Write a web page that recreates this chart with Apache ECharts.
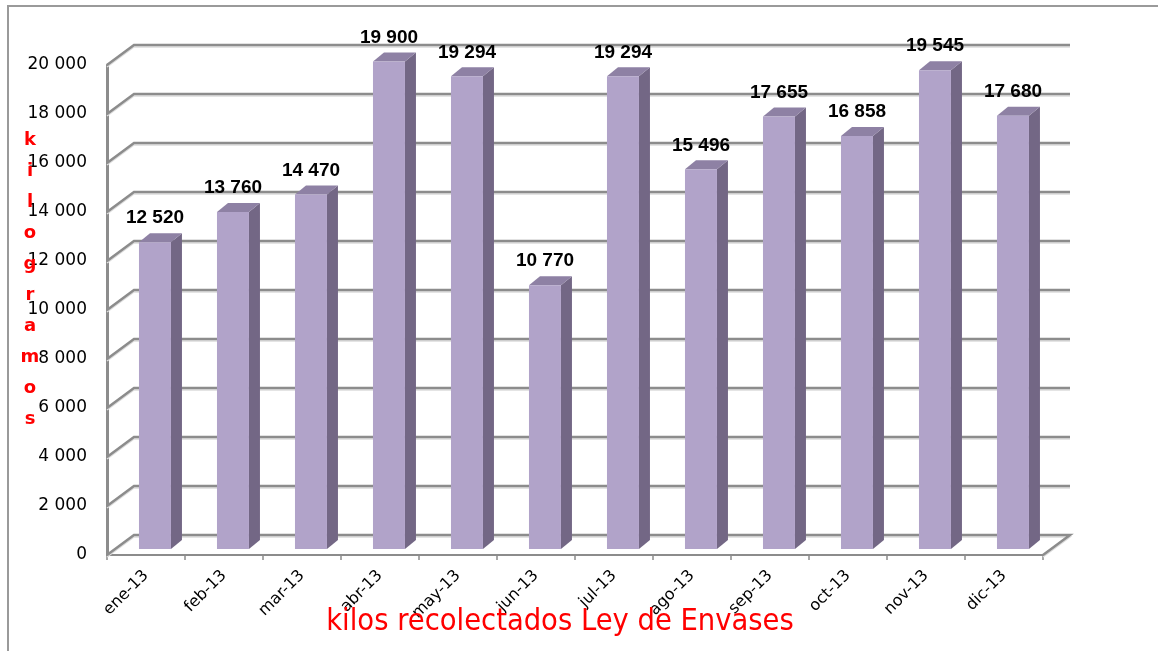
<!DOCTYPE html>
<html lang="es">
<head>
    <meta charset="UTF-8">
    <title>kilos recolectados Ley de Envases</title>
    <script src="https://cdn.jsdelivr.net/npm/echarts@6.0.0/dist/echarts.min.js"></script>
    <style>
        html, body { margin: 0; padding: 0; background: #fff; }
        #chart { width: 1158px; height: 651px; }
    </style>
</head>
<body>
    <div id="chart"></div>
    <script>
        // datos
        const months = ['ene-13', 'feb-13', 'mar-13', 'abr-13', 'may-13', 'jun-13',
                        'jul-13', 'ago-13', 'sep-13', 'oct-13', 'nov-13', 'dic-13'];
        const kilos = [12520, 13760, 14470, 19900, 19294, 10770,
                       19294, 15496, 17655, 16858, 19545, 17680];
        const yTicks = [0, 2000, 4000, 6000, 8000, 10000, 12000, 14000, 16000, 18000, 20000];
        const titleText = 'kilos recolectados Ley de Envases';
        const yName = 'kilogramos';

        // profundidad de las paredes y de las barras (px)
        const WALL_DX = 27, WALL_DY = -20;
        const BAR_DX = 11, BAR_DY = -9;

        function fmt(v) {
            return String(v).replace(/\B(?=(\d{3})+(?!\d))/g, ' ');
        }

        // paredes y suelo del efecto 3D
        function renderWall(params, api) {
            const v = api.value(1);
            const bw = api.size([1, 0])[0];
            const p = api.coord([0, v]);
            const xl = p[0] - bw / 2;
            const xr = api.coord([months.length - 1, v])[0] + bw / 2;
            const y = p[1];
            const pts = [[xl, y], [xl + WALL_DX, y + WALL_DY], [xr + WALL_DX, y + WALL_DY]];
            if (v === 0) pts.push([xr, y]);
            const shadow = pts.map(q => [q[0], q[1] + 2]);
            return {
                type: 'group',
                children: [
                    { type: 'polyline', shape: { points: shadow }, style: { stroke: '#dcdcdc', lineWidth: 1.5, fill: null } },
                    { type: 'polyline', shape: { points: pts }, style: { stroke: '#8c8c8c', lineWidth: 2.5, fill: null } }
                ]
            };
        }

        // barras con cara frontal, lateral y superior
        function renderBar(params, api) {
            const i = api.value(0), v = api.value(1);
            const bw = api.size([1, 0])[0];
            const c0 = api.coord([i, 0]);
            const c1 = api.coord([i, v]);
            const w = bw * 0.41;
            const x0 = c0[0] - bw / 2 + bw * 0.41;
            const yb = c0[1] - 6, yt = c1[1] - 6;
            return {
                type: 'group',
                children: [
                    {
                        type: 'polygon',
                        shape: { points: [[x0 + w, yb], [x0 + w + BAR_DX, yb + BAR_DY], [x0 + w + BAR_DX, yt + BAR_DY], [x0 + w, yt]] },
                        style: { fill: '#736785' }
                    },
                    {
                        type: 'polygon',
                        shape: { points: [[x0, yt], [x0 + BAR_DX, yt + BAR_DY], [x0 + w + BAR_DX, yt + BAR_DY], [x0 + w, yt]] },
                        style: { fill: '#8e81a4' }
                    },
                    {
                        type: 'rect',
                        shape: { x: x0, y: yt, width: w, height: yb - yt },
                        style: { fill: '#b1a3c9' }
                    },
                    {
                        type: 'text',
                        style: {
                            text: fmt(v), x: x0 + w / 2, y: yt - 24,
                            align: 'center', verticalAlign: 'middle',
                            fontFamily: 'Liberation Sans', fontWeight: 'bold', fontSize: 19, fill: '#000'
                        }
                    }
                ]
            };
        }

        const chart = echarts.init(document.getElementById('chart'));

        chart.setOption({
            animation: false,
            backgroundColor: '#fff',
            grid: { left: 107, right: 115, top: 65, bottom: 96, containLabel: false, outerBoundsMode: 'none' },
            xAxis: {
                type: 'category',
                data: months,
                boundaryGap: true,
                axisLine: { lineStyle: { color: '#8c8c8c', width: 2 } },
                axisTick: { show: true, interval: 0, length: 5, lineStyle: { color: '#8c8c8c', width: 1.5 } },
                axisLabel: {
                    interval: 0, rotate: 45, margin: 18,
                    fontFamily: 'DejaVu Sans', fontSize: 16, color: '#000'
                }
            },
            yAxis: {
                type: 'value',
                min: 0, max: 20000, interval: 2000,
                axisLine: { show: true, lineStyle: { color: '#8c8c8c', width: 3 } },
                axisTick: { show: false },
                splitLine: { show: false },
                axisLabel: {
                    margin: 20, fontFamily: 'DejaVu Sans', fontSize: 17, color: '#000',
                    formatter: v => fmt(v)
                }
            },
            series: [
                {
                    type: 'custom',
                    name: 'paredes',
                    clip: false,
                    renderItem: renderWall,
                    data: yTicks.map(v => [0, v]),
                    silent: true
                },
                {
                    type: 'custom',
                    name: yName,
                    clip: false,
                    renderItem: renderBar,
                    data: kilos.map((v, i) => [i, v])
                }
            ],
            graphic: [
                {
                    type: 'rect',
                    shape: { x: 8, y: 6, width: 1300, height: 800 },
                    style: { fill: null, stroke: '#9a9a9a', lineWidth: 2 },
                    z: 0, silent: true
                },
                {
                    type: 'text',
                    x: 30, y: 125,
                    style: {
                        text: yName.split('').join('\n'),
                        align: 'center', lineHeight: 31,
                        fontFamily: 'DejaVu Sans', fontWeight: 'bold', fontSize: 18, fill: '#ff0000'
                    },
                    z: 100
                },
                {
                    type: 'text',
                    x: 560, y: 622,
                    style: {
                        text: titleText,
                        align: 'center', verticalAlign: 'middle',
                        fontFamily: 'DejaVu Sans Condensed', fontSize: 30.5, fill: '#ff0000'
                    },
                    z: 100
                }
            ]
        });
    </script>
</body>
</html>
